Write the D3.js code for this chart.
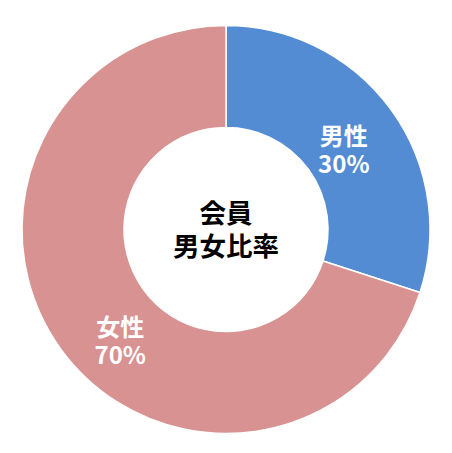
<!DOCTYPE html>
<html>
<head>
<meta charset="utf-8">
<script src="https://cdn.jsdelivr.net/npm/d3@7"></script>
<style>
  body { margin: 0; background: #fff; }
  text { font-family: "Noto Sans CJK JP", "Noto Sans", sans-serif; font-weight: bold; }
</style>
</head>
<body>
<div id="chart"></div>
<script>
const categories = ["男性", "女性"];
const values = [30, 70];
const percentLabels = ["30%", "70%"];
const centerLines = ["会員", "男女比率"];

const width = 452;
const height = 453;
const cx = 226, cy = 229.5;
const outerRadius = 204;
const innerRadius = 102;

const colorScale = d3.scaleOrdinal()
    .domain(categories)
    .range(["#538cd3", "#d99292"]);

const svg = d3.select("#chart").append("svg")
    .attr("width", width)
    .attr("height", height);

const g = svg.append("g")
    .attr("transform", `translate(${cx}, ${cy})`);

const pie = d3.pie().sort(null).value(d => d.value);
const data = categories.map((c, i) => ({ name: c, value: values[i], label: percentLabels[i] }));

const arc = d3.arc().innerRadius(innerRadius).outerRadius(outerRadius);

g.selectAll("path")
    .data(pie(data))
    .enter().append("path")
    .attr("d", arc)
    .attr("fill", d => colorScale(d.data.name))
    .attr("stroke", "#fff")
    .attr("stroke-width", 1.5);

// data labels, nudged a little off the centroid like the original
const nudge = [[-6, 10], [18, 22]];
const labels = g.selectAll(".label")
    .data(pie(data))
    .enter().append("text")
    .attr("class", "label")
    .attr("text-anchor", "middle")
    .attr("fill", "#fff")
    .style("font-size", "24px")
    .attr("transform", (d, i) => {
        const [x, y] = arc.centroid(d);
        return `translate(${x + nudge[i][0]}, ${y + nudge[i][1]})`;
    });

labels.append("tspan")
    .attr("x", 0)
    .attr("y", -5)
    .text(d => d.data.name);

labels.append("tspan")
    .attr("x", 0)
    .attr("y", 23)
    .text(d => d.data.label);

// centre title
g.append("text")
    .attr("text-anchor", "middle")
    .attr("fill", "#000")
    .style("font-size", "26.5px")
    .selectAll("tspan")
    .data(centerLines)
    .enter().append("tspan")
    .attr("x", 0)
    .attr("y", (d, i) => -6.5 + i * 33)
    .text(d => d);
</script>
</body>
</html>
